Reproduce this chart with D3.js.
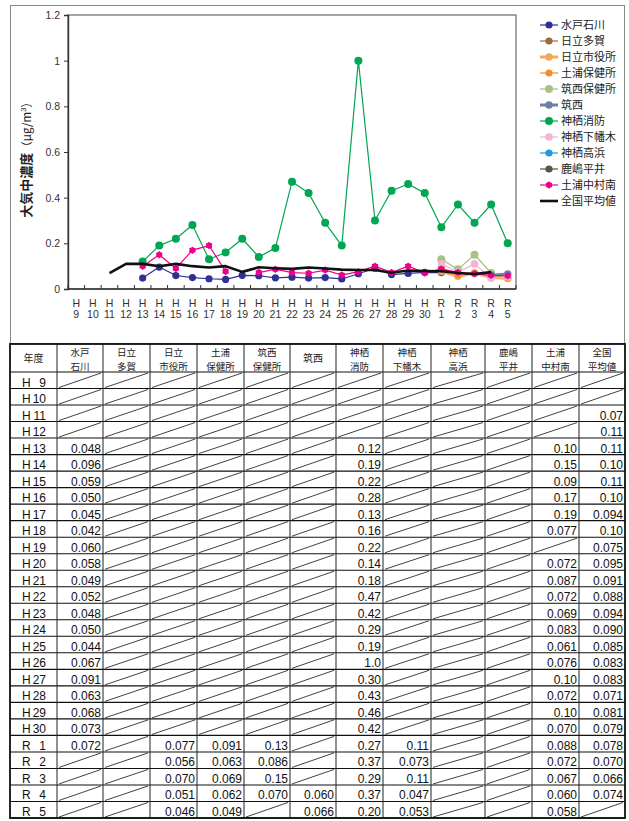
<!DOCTYPE html>
<html><head><meta charset="utf-8">
<script src="https://cdn.jsdelivr.net/npm/d3@7"></script>
<style>
html,body{margin:0;padding:0;background:#fff;}
svg{display:block;font-family:"Liberation Sans",Arial,"Noto Sans CJK JP",sans-serif;}
</style></head><body>
<svg id="c" width="629" height="821"></svg>
<script>
// 年度 (fiscal years): Heisei 9 – Reiwa 5
const fiscalYears = ["H 9","H 10","H 11","H 12","H 13","H 14","H 15","H 16","H 17","H 18","H 19","H 20","H 21","H 22","H 23","H 24","H 25","H 26","H 27","H 28","H 29","H 30","R 1","R 2","R 3","R 4","R 5"];

// Annual mean concentrations (µg/m³) per monitoring station, as printed in the table
const mitoIshikawa   = [null,null,null,null,"0.048","0.096","0.059","0.050","0.045","0.042","0.060","0.058","0.049","0.052","0.048","0.050","0.044","0.067","0.091","0.063","0.068","0.073","0.072",null,null,null,null];
const hitachiTaga    = [null,null,null,null,null,null,null,null,null,null,null,null,null,null,null,null,null,null,null,null,null,null,null,null,null,null,null];
const hitachiCity    = [null,null,null,null,null,null,null,null,null,null,null,null,null,null,null,null,null,null,null,null,null,null,"0.077","0.056","0.070","0.051","0.046"];
const tsuchiuraHC    = [null,null,null,null,null,null,null,null,null,null,null,null,null,null,null,null,null,null,null,null,null,null,"0.091","0.063","0.069","0.062","0.049"];
const chikuseiHC     = [null,null,null,null,null,null,null,null,null,null,null,null,null,null,null,null,null,null,null,null,null,null,"0.13","0.086","0.15","0.070",null];
const chikusei       = [null,null,null,null,null,null,null,null,null,null,null,null,null,null,null,null,null,null,null,null,null,null,null,null,null,"0.060","0.066"];
const kamisuFire     = [null,null,null,null,"0.12","0.19","0.22","0.28","0.13","0.16","0.22","0.14","0.18","0.47","0.42","0.29","0.19","1.0","0.30","0.43","0.46","0.42","0.27","0.37","0.29","0.37","0.20"];
const kamisuShimo    = [null,null,null,null,null,null,null,null,null,null,null,null,null,null,null,null,null,null,null,null,null,null,"0.11","0.073","0.11","0.047","0.053"];
const kamisuTakahama = [null,null,null,null,null,null,null,null,null,null,null,null,null,null,null,null,null,null,null,null,null,null,null,null,null,null,null];
const kashimaHirai   = [null,null,null,null,null,null,null,null,null,null,null,null,null,null,null,null,null,null,null,null,null,null,null,null,null,null,null];
const tsuchiuraNaka  = [null,null,null,null,"0.10","0.15","0.09","0.17","0.19","0.077",null,"0.072","0.087","0.072","0.069","0.083","0.061","0.076","0.10","0.072","0.10","0.070","0.088","0.072","0.067","0.060","0.058"];
const nationalMean   = [null,null,"0.07","0.11","0.11","0.10","0.11","0.10","0.094","0.10","0.075","0.095","0.091","0.088","0.094","0.090","0.085","0.083","0.083","0.071","0.081","0.079","0.078","0.070","0.066","0.074",null];

const yTicks = [0, 0.2, 0.4, 0.6, 0.8, 1.0, 1.2];

// station list: legend name, table header, values, style
const stations = [
  {name:"水戸石川",   head:["水戸","石川"],   values:mitoIshikawa,   color:"#2E3192", lw:1.2, marker:"circle", r:3.6},
  {name:"日立多賀",   head:["日立","多賀"],   values:hitachiTaga,    color:"#9C6B3C", lw:1.2, marker:"circle", r:3.6},
  {name:"日立市役所", head:["日立","市役所"], values:hitachiCity,    color:"#F7A65E", lw:3,   marker:"circle", r:3.8},
  {name:"土浦保健所", head:["土浦","保健所"], values:tsuchiuraHC,    color:"#F68B2A", lw:1.2, marker:"circle", r:3.6},
  {name:"筑西保健所", head:["筑西","保健所"], values:chikuseiHC,     color:"#A8C285", lw:1.2, marker:"circle", r:4},
  {name:"筑西",       head:["筑西"],          values:chikusei,       color:"#6E7EA8", lw:3,   marker:"circle", r:3.8},
  {name:"神栖消防",   head:["神栖","消防"],   values:kamisuFire,     color:"#00A651", lw:1.2, marker:"circle", r:4},
  {name:"神栖下幡木", head:["神栖","下幡木"], values:kamisuShimo,    color:"#F6B3D3", lw:1.2, marker:"circle", r:3.8},
  {name:"神栖高浜",   head:["神栖","高浜"],   values:kamisuTakahama, color:"#1E9AD8", lw:1.2, marker:"circle", r:3.6},
  {name:"鹿嶋平井",   head:["鹿嶋","平井"],   values:kashimaHirai,   color:"#565646", lw:1.2, marker:"circle", r:3.6},
  {name:"土浦中村南", head:["土浦","中村南"], values:tsuchiuraNaka,  color:"#EC008C", lw:1.2, marker:"star",   r:3},
  {name:"全国平均値", head:["全国","平均値"], values:nationalMean,   color:"#111111", lw:2.6, marker:"none",   r:0}
];

const svg = d3.select("#c");
const cjk = '"Noto Sans CJK JP",sans-serif';

// ---------- chart ----------
svg.append("rect").attr("x",10.5).attr("y",5.5).attr("width",614).attr("height",338)
  .attr("fill","#fff").attr("stroke","#8a8a8a").attr("stroke-width",1);

const plot = {left:68, top:15, right:516, bottom:289};
const x = d3.scaleBand().domain(fiscalYears).range([plot.left, plot.right]).padding(0);
const y = d3.scaleLinear().domain([0, 1.2]).range([plot.bottom, plot.top]);
const cx = d => x(d) + x.bandwidth()/2;

// plot frame
svg.append("rect").attr("x",plot.left).attr("y",plot.top)
  .attr("width",plot.right-plot.left).attr("height",plot.bottom-plot.top)
  .attr("fill","none").attr("stroke","#6a6a6a").attr("stroke-width",1.2);

// y axis
const yAxis = svg.append("g").attr("transform",`translate(${plot.left},0)`)
  .call(d3.axisLeft(y).tickValues(yTicks).tickSize(4).tickPadding(4).tickFormat(d3.format("~g")));
yAxis.select(".domain").attr("stroke","#333").attr("stroke-width",1.4);
yAxis.selectAll(".tick line").attr("stroke","#333");
yAxis.selectAll("text").attr("font-size",10.5).attr("fill","#333")
  .attr("font-family",'"Liberation Sans",Arial,sans-serif');

// x axis (inward ticks at category boundaries, two-line labels)
const xg = svg.append("g");
xg.append("line").attr("x1",plot.left).attr("x2",plot.right).attr("y1",plot.bottom).attr("y2",plot.bottom)
  .attr("stroke","#333").attr("stroke-width",1.6);
xg.selectAll("line.tk").data(fiscalYears.concat(["end"])).join("line").attr("class","tk")
  .attr("x1",d => d==="end" ? plot.right : x(d)).attr("x2",d => d==="end" ? plot.right : x(d))
  .attr("y1",plot.bottom).attr("y2",plot.bottom-4).attr("stroke","#333");
const xl = xg.selectAll("g.lab").data(fiscalYears).join("g").attr("class","lab")
  .attr("transform",d => `translate(${cx(d)},0)`);
xl.append("text").attr("y",307).attr("text-anchor","middle").attr("font-size",10.5).attr("fill","#333")
  .text(d => d.split(" ")[0]);
xl.append("text").attr("y",318).attr("text-anchor","middle").attr("font-size",10.5).attr("fill","#333")
  .text(d => d.split(" ")[1]);

// y axis title
const yt = svg.append("text").attr("transform","translate(31,157) rotate(-90)")
  .attr("text-anchor","middle").attr("font-size",13).attr("fill","#222");
yt.append("tspan").attr("font-weight","bold").attr("font-family",cjk).text("大気中濃度");
yt.append("tspan").attr("font-family",cjk).attr("font-size",11.5).text("（μg/m");
yt.append("tspan").attr("font-size",7.5).attr("dy",-5).text("3");
yt.append("tspan").attr("font-family",cjk).attr("font-size",11.5).attr("dy",5).text("）");

// series
const line = d3.line().defined(d => d.v !== null).x(d => cx(d.k)).y(d => y(+d.v));
function drawMarker(g, s, px, py){
  if (s.marker === "circle") {
    g.append("circle").attr("cx",px).attr("cy",py).attr("r",s.r).attr("fill",s.color);
  } else if (s.marker === "star") {
    g.append("circle").attr("cx",px).attr("cy",py).attr("r",s.r).attr("fill",s.color);
    g.append("path").attr("d",d3.symbol(d3.symbolAsterisk,34)())
      .attr("transform",`translate(${px},${py})`).attr("stroke",s.color).attr("stroke-width",1.3);
  }
}
const seriesG = svg.append("g");
stations.forEach(s => {
  const pts = fiscalYears.map((k,i) => ({k, v:s.values[i]}));
  const g = seriesG.append("g");
  g.append("path").datum(pts).attr("d",line).attr("fill","none")
    .attr("stroke",s.color).attr("stroke-width",s.lw).attr("stroke-linejoin","round");
  pts.filter(p => p.v !== null).forEach(p => drawMarker(g, s, cx(p.k), y(+p.v)));
});

// legend
const lg = svg.append("g");
stations.forEach((s,i) => {
  const ly = 25 + i*16;
  lg.append("line").attr("x1",540).attr("x2",558).attr("y1",ly).attr("y2",ly)
    .attr("stroke",s.color).attr("stroke-width",s.lw);
  drawMarker(lg, s, 549, ly);
  lg.append("text").attr("x",561).attr("y",ly+4).attr("font-size",11).attr("fill","#222")
    .attr("font-family",cjk).text(s.name);
});

// ---------- table ----------
const colEdges = [10, 57, 103, 150, 197, 244, 290, 336, 383, 431, 485, 532, 579, 625];
const headTop = 344, headBottom = 372, tableBottom = 818;
const rowH = (tableBottom - headBottom) / fiscalYears.length;
const tg = svg.append("g");

// header texts
const headSize = 9.5;
tg.append("text").attr("x",(colEdges[0]+colEdges[1])/2).attr("y",362).attr("text-anchor","middle")
  .attr("font-size",10).attr("font-family",cjk).attr("fill","#222").text("年度");
stations.forEach((s,j) => {
  const mx = (colEdges[j+1]+colEdges[j+2])/2;
  if (s.head.length === 1) {
    tg.append("text").attr("x",mx).attr("y",362).attr("text-anchor","middle").attr("font-size",10)
      .attr("font-family",cjk).attr("fill","#222").text(s.head[0]);
  } else {
    s.head.forEach((h,k) => tg.append("text").attr("x",mx).attr("y",355.5 + k*14)
      .attr("text-anchor","middle").attr("font-size",headSize)
      .attr("font-family",cjk).attr("fill","#222").text(h));
  }
});

// rows
fiscalYears.forEach((fy,i) => {
  const top = headBottom + i*rowH, bot = top + rowH;
  const base = bot - 2;
  const [era, num] = fy.split(" ");
  tg.append("text").attr("x",22).attr("y",base).attr("font-size",12).attr("fill","#111").text(era);
  tg.append("text").attr("x",46).attr("y",base).attr("text-anchor","end").attr("font-size",12).attr("fill","#111").text(num);
  stations.forEach((s,j) => {
    const x0 = colEdges[j+1], x1 = colEdges[j+2];
    const v = s.values[i];
    if (v === null) {
      tg.append("line").attr("x1",x0+2).attr("y1",bot-1).attr("x2",x1-2).attr("y2",top+1)
        .attr("stroke","#111").attr("stroke-width",0.8);
    } else {
      tg.append("text").attr("x",x1-2).attr("y",base).attr("text-anchor","end")
        .attr("font-size",12).attr("fill","#111").text(v);
    }
  });
});

// grid lines
tg.selectAll("line.h").data(d3.range(fiscalYears.length+1)).join("line").attr("class","h")
  .attr("x1",colEdges[0]).attr("x2",colEdges[colEdges.length-1])
  .attr("y1",d => headBottom + d*rowH).attr("y2",d => headBottom + d*rowH)
  .attr("stroke","#111").attr("stroke-width",1.1);
tg.selectAll("line.v").data(colEdges.slice(1,-1)).join("line").attr("class","v")
  .attr("x1",d => d).attr("x2",d => d).attr("y1",headTop).attr("y2",tableBottom)
  .attr("stroke","#222").attr("stroke-width",1);
tg.append("rect").attr("x",colEdges[0]).attr("y",headTop)
  .attr("width",colEdges[colEdges.length-1]-colEdges[0]).attr("height",tableBottom-headTop)
  .attr("fill","none").attr("stroke","#111").attr("stroke-width",1.8);
</script>
</body></html>
